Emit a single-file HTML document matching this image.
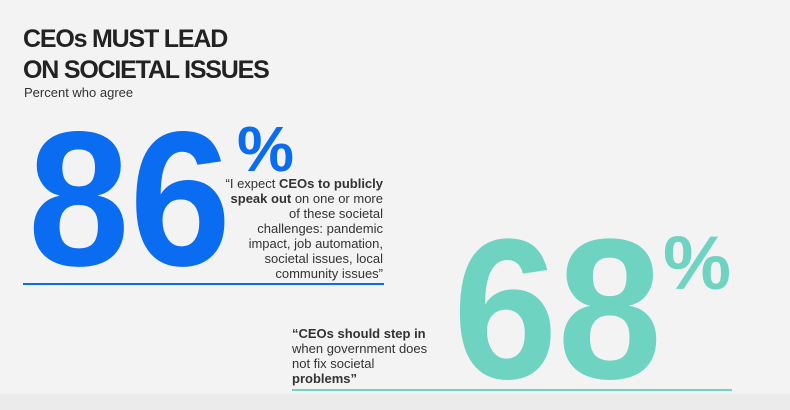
<!DOCTYPE html>
<html><head><meta charset="utf-8"><style>
html,body{margin:0;padding:0;background:#f3f3f3;}
svg{display:block;font-family:"Liberation Sans",Arial,sans-serif;}
</style></head><body>
<svg id="chart" width="790" height="410" viewBox="0 0 790 410" xmlns="http://www.w3.org/2000/svg">
<rect x="0" y="0" width="790" height="410" fill="#f3f3f3"/>
<rect x="0" y="394" width="790" height="16" fill="#ebebeb"/>
<text x="23" y="47" font-size="25" font-weight="bold" fill="#222" letter-spacing="-1.2">CEOs MUST LEAD</text>
<text x="23" y="78" font-size="25" font-weight="bold" fill="#222" letter-spacing="-1.2">ON SOCIETAL ISSUES</text>
<text x="24" y="97" font-size="13" fill="#333">Percent who agree</text>
<g id="stats"></g>
<g font-size="13" fill="#333" text-anchor="end">
<text x="383" y="188"><tspan>“I expect </tspan><tspan font-weight="bold">CEOs to publicly</tspan></text>
<text x="383" y="203"><tspan font-weight="bold">speak out</tspan><tspan> on one or more</tspan></text>
<text x="383" y="218">of these societal</text>
<text x="383" y="233">challenges: pandemic</text>
<text x="383" y="248">impact, job automation,</text>
<text x="383" y="263">societal issues, local</text>
<text x="383" y="278">community issues”</text>
</g>
<g font-size="13" fill="#333">
<text x="292" y="338" font-weight="bold">“CEOs should step in</text>
<text x="292" y="353">when government does</text>
<text x="292" y="368">not fix societal</text>
<text x="292" y="383" font-weight="bold">problems”</text>
</g>
</svg>
<script>
const statLabels = ["expect-ceos-speak-out", "ceos-step-in"];
const statValues = [86, 68];
const statColors = ["#0a6cf0", "#6fd3c2"];
const layout = [
  {x:28, base:265, w:203, fs:192, px:237, pbase:171, pw:57, pfs:64, lx1:23, lx2:384, ly:284},
  {x:453, base:378, w:209, fs:200, px:663, pbase:289, pw:68, pfs:76, lx1:292, lx2:732, ly:390}
];
const ns = "http://www.w3.org/2000/svg";
const g = document.getElementById("stats");
statValues.forEach((v, i) => {
  const L = layout[i];
  const t = document.createElementNS(ns, "text");
  t.setAttribute("x", L.x); t.setAttribute("y", L.base);
  t.setAttribute("font-size", L.fs); t.setAttribute("font-weight", "bold");
  t.setAttribute("fill", statColors[i]);
  t.setAttribute("textLength", L.w); t.setAttribute("lengthAdjust", "spacingAndGlyphs");
  t.textContent = String(v);
  
  
  g.appendChild(t);
  const p = document.createElementNS(ns, "text");
  p.setAttribute("x", L.px); p.setAttribute("y", L.pbase);
  p.setAttribute("font-size", L.pfs); p.setAttribute("font-weight", "bold");
  p.setAttribute("fill", statColors[i]);
  p.setAttribute("textLength", L.pw); p.setAttribute("lengthAdjust", "spacingAndGlyphs");
  p.textContent = "%";
  
  
  g.appendChild(p);
  const ln = document.createElementNS(ns, "line");
  ln.setAttribute("x1", L.lx1); ln.setAttribute("x2", L.lx2);
  ln.setAttribute("y1", L.ly); ln.setAttribute("y2", L.ly);
  ln.setAttribute("stroke", statColors[i]); ln.setAttribute("stroke-width", 2);
  
  
  g.appendChild(ln);
});
</script>
</body></html>
